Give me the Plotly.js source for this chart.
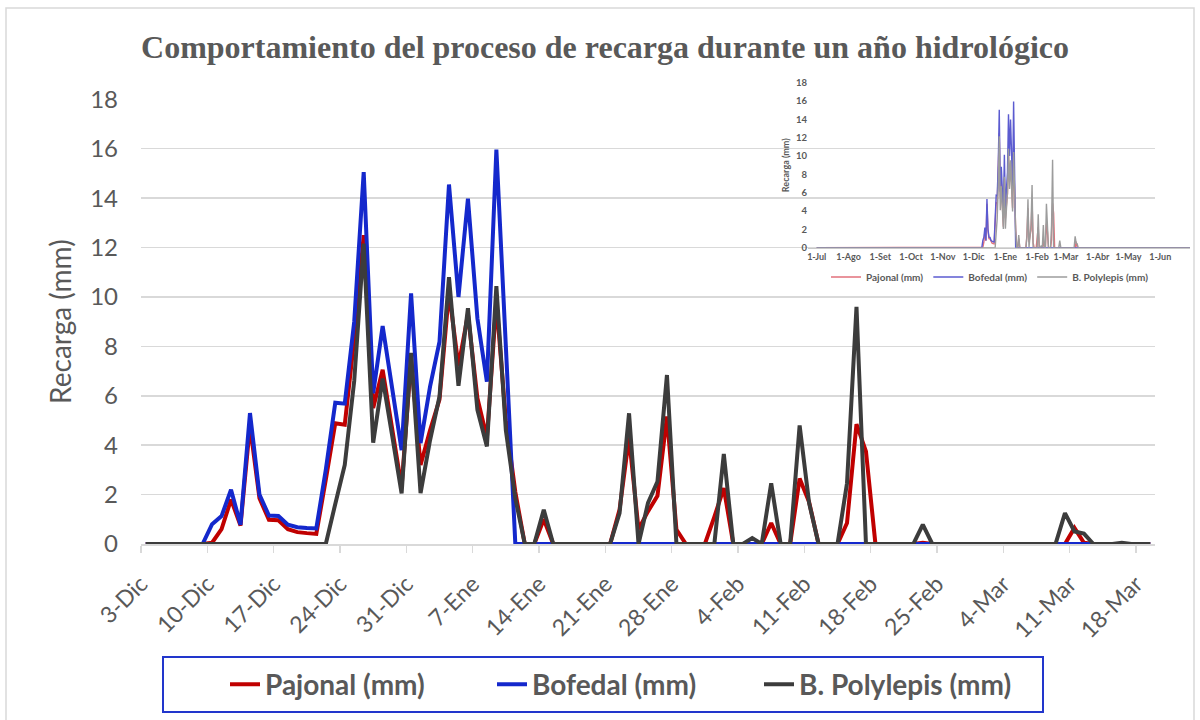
<!DOCTYPE html>
<html>
<head>
<meta charset="utf-8">
<script src="https://cdn.plot.ly/plotly-3.0.1.min.js"></script>
<style>html,body{margin:0;padding:0;background:#fff;}#chart{width:1200px;height:720px;}</style>
</head>
<body>
<div id="chart"></div>
<script>
// ---- data (daily recharge, mm) from 3-Dic ----
const startDate = "2017-12-03";
const pajonal = [
  0,0,0,0,0,0,0,
  0.05,0.6,1.8,0.75,4.8,1.85,0.98,0.96,0.6,0.48,0.44,0.41,
  2.6,4.89,4.83,8.3,12.5,5.5,7.05,4.7,2.3,7.5,3.2,4.6,5.85,10.2,7.2,9.3,5.9,4.3,9.8,5.0,2.1,
  0,0,1.0,0,0,0,0,0,0,0,
  1.4,4.3,0.6,1.32,1.95,5.16,0.58,0,0,0,
  1.1,2.26,0,0,0,0,0.85,0,0,2.65,
  1.7,0,0,0,0.85,4.85,3.75,0,0,0,
  0,0,0.05,0,0,0,0,0,0,0,
  0,0,0,0,0,0,0,0,0.65,0.05,
  0,0,0,0,0,0,0
];
const bofedal = [
  0,0,0,0,0,0,0,
  0.8,1.13,2.2,0.78,5.3,2.0,1.15,1.13,0.78,0.68,0.65,0.63,
  3.0,5.72,5.68,9.0,15.05,6.1,8.82,6.2,3.8,10.14,4.08,6.37,8.19,14.55,10.0,13.98,9.13,6.57,15.96,8.0,
  0,0,0,0,0,0,0,0,0,0,0,
  0,0,0,0,0,0,0,0,0,0,
  0,0,0,0,0,0,0,0,0,0,
  0,0,0,0,0,0,0,0,0,0,
  0,0,0,0,0,0,0,0,0,0,
  0,0,0,0,0,0,0,0,0,0,
  0,0,0,0,0,0,0
];
const polylepis = [
  0,0,0,0,0,0,0,0,0,0,0,0,0,0,0,0,0,0,0,0,
  1.62,3.2,6.6,12.16,4.1,6.7,4.4,2.05,7.74,2.06,4.2,5.97,10.8,6.4,9.54,5.43,3.95,10.44,4.6,1.85,
  0,0,1.39,0,0,0,0,0,0,0,
  1.25,5.29,0,1.66,2.53,6.84,0,0,0,0,
  0,3.64,0,0,0.24,0,2.46,0,0,4.8,
  1.66,0,0,0,2.46,9.6,0,0,0,0,
  0,0,0.78,0,0,0,0,0,0,0,
  0,0,0,0,0,0,0,1.25,0.51,0.42,
  0,0,0,0.05,0,0,0
];
const seriesNames = ["Pajonal (mm)", "Bofedal (mm)", "B. Polylepis (mm)"];
const tickLabels = ["3-Dic","10-Dic","17-Dic","24-Dic","31-Dic","7-Ene","14-Ene","21-Ene","28-Ene","4-Feb","11-Feb","18-Feb","25-Feb","4-Mar","11-Mar","18-Mar"];
// inset (whole hydrological year)
const yearStart = "2017-07-01";
const yearEnd = "2018-06-30";
const monthTicks = ["2017-07-01","2017-08-01","2017-09-01","2017-10-01","2017-11-01","2017-12-01","2018-01-01","2018-02-01","2018-03-01","2018-04-01","2018-05-01","2018-06-01"];
const monthLabels = ["1-Jul","1-Ago","1-Set","1-Oct","1-Nov","1-Dic","1-Ene","1-Feb","1-Mar","1-Abr","1-May","1-Jun"];

// ---- build ----
const DAY = 864e5;
const t0 = Date.parse(startDate + "T00:00:00Z");
const fmt = ms => new Date(ms).toISOString().slice(0,19).replace("T"," ");
const dates = pajonal.map((_, i) => fmt(t0 + i*DAY));
const tickVals = tickLabels.map((_, k) => fmt(t0 + (7*k - 0.5)*DAY));
const n = pajonal.length;

const grey = "#595959";
const F = "Lato, 'Open Sans', sans-serif";
const mainColors = ["#c00000", "#1428cc", "#3c3c3c"];
const insetColors = ["#e2717b", "#5b5bd0", "#9c9c9c"];
const allSeries = [pajonal, bofedal, polylepis];

const traces = [];
allSeries.forEach((ys, i) => {
  traces.push({
    type: "scatter", mode: "lines", x: dates, y: ys, name: seriesNames[i],
    line: {color: mainColors[i], width: 4}, xaxis: "x", yaxis: "y", legend: "legend",
    hoverinfo: "x+y+name"
  });
});
allSeries.forEach((ys, i) => {
  traces.push({
    type: "scatter", mode: "lines",
    x: [yearStart].concat(dates, [yearEnd]), y: [0].concat(ys, [0]), name: seriesNames[i],
    line: {color: insetColors[i], width: 1.4}, xaxis: "x2", yaxis: "y2", legend: "legend2",
    hoverinfo: "x+y+name"
  });
});

// geometry (pixels) -> paper fractions
const L = 141, R = 5, T = 70, B = 176, W = 1200, H = 720;
const pw = W - L - R, ph = H - T - B;
const px = x => (x - L) / pw;
const py = y => (H - B - y) / ph;

const layout = {
  width: W, height: H,
  margin: {l: L, r: R, t: T, b: B, pad: 0},
  paper_bgcolor: "#ffffff", plot_bgcolor: "rgba(0,0,0,0)",
  showlegend: true,
  title: {
    text: "Comportamiento del proceso de recarga durante un año hidrológico",
    font: {family: "'Liberation Serif', 'Times New Roman', serif", size: 32, color: grey, weight: "bold"},
    xref: "container", yref: "container", x: 605/1200, xanchor: "center", y: 1 - 47/720, yanchor: "middle"
  },
  xaxis: {
    type: "date", domain: [0, px(1155)],
    range: [fmt(t0 - 0.5*DAY), fmt(t0 + (n - 0.5)*DAY)],
    tickmode: "array", tickvals: tickVals, ticktext: tickLabels, tickangle: -45,
    tickfont: {family: F, size: 23, color: grey},
    ticks: "outside", ticklen: 7, tickwidth: 1.5, tickcolor: "#d9d9d9",
    ticklabelstandoff: 9,
    showgrid: false, zeroline: false, showline: true, linecolor: "#d9d9d9", linewidth: 1.5,
    anchor: "y", fixedrange: true
  },
  yaxis: {
    domain: [0, py(99.3)], range: [0, 18], dtick: 2, tick0: 0,
    tickfont: {family: F, size: 24, color: grey},
    showgrid: true, gridcolor: "#d9d9d9", gridwidth: 1.5, zeroline: false, showline: false,
    ticks: "", ticklabelstandoff: 22,
    title: {text: "Recarga (mm)", font: {family: F, size: 28, color: grey}, standoff: 10},
    anchor: "x", fixedrange: true
  },
  xaxis2: {
    type: "date", domain: [px(808), px(1190)],
    range: ["2017-06-22 12:00", "2018-06-30"],
    tickmode: "array", tickvals: monthTicks, ticktext: monthLabels, tickangle: 0,
    tickfont: {family: F, size: 9, color: grey, weight: "bold"},
    showgrid: false, zeroline: false, showline: true, linecolor: "#c8c8c8", linewidth: 1,
    ticks: "", anchor: "y2", fixedrange: true
  },
  yaxis2: {
    domain: [py(247.7), py(82.7)], range: [0, 18], dtick: 2, tick0: 0,
    tickfont: {family: F, size: 9.5, color: grey, weight: "bold"},
    showgrid: false, zeroline: false, showline: false, ticks: "",
    title: {text: "Recarga (mm)", font: {family: F, size: 9, color: grey, weight: "bold"}, standoff: 4},
    anchor: "x2", fixedrange: true
  },
  legend: {
    orientation: "h", x: px(225), xanchor: "left", y: py(684.5), yanchor: "middle",
    font: {family: F, size: 28, color: grey, weight: "bold"},
    bgcolor: "rgba(0,0,0,0)", borderwidth: 0,
    entrywidth: 222, entrywidthmode: "pixels", itemwidth: 30, traceorder: "normal"
  },
  legend2: {
    orientation: "h", x: px(826), xanchor: "left", y: py(277), yanchor: "middle",
    font: {family: F, size: 10, color: grey, weight: "bold"},
    bgcolor: "rgba(0,0,0,0)", borderwidth: 0, itemwidth: 30, traceorder: "normal"
  },
  shapes: [
    {type: "rect", xref: "paper", yref: "paper", x0: px(6), x1: px(1194), y0: py(725), y1: py(8),
     line: {color: "#d9d9d9", width: 1.5}, fillcolor: "rgba(0,0,0,0)", layer: "below"},
    {type: "rect", xref: "paper", yref: "paper", x0: px(163), x1: px(1043), y0: py(712), y1: py(657),
     line: {color: "#2236cc", width: 2}, fillcolor: "rgba(0,0,0,0)", layer: "above"}
  ]
};

Plotly.newPlot("chart", traces, layout, {staticPlot: true, displayModeBar: false});
</script>
</body>
</html>
